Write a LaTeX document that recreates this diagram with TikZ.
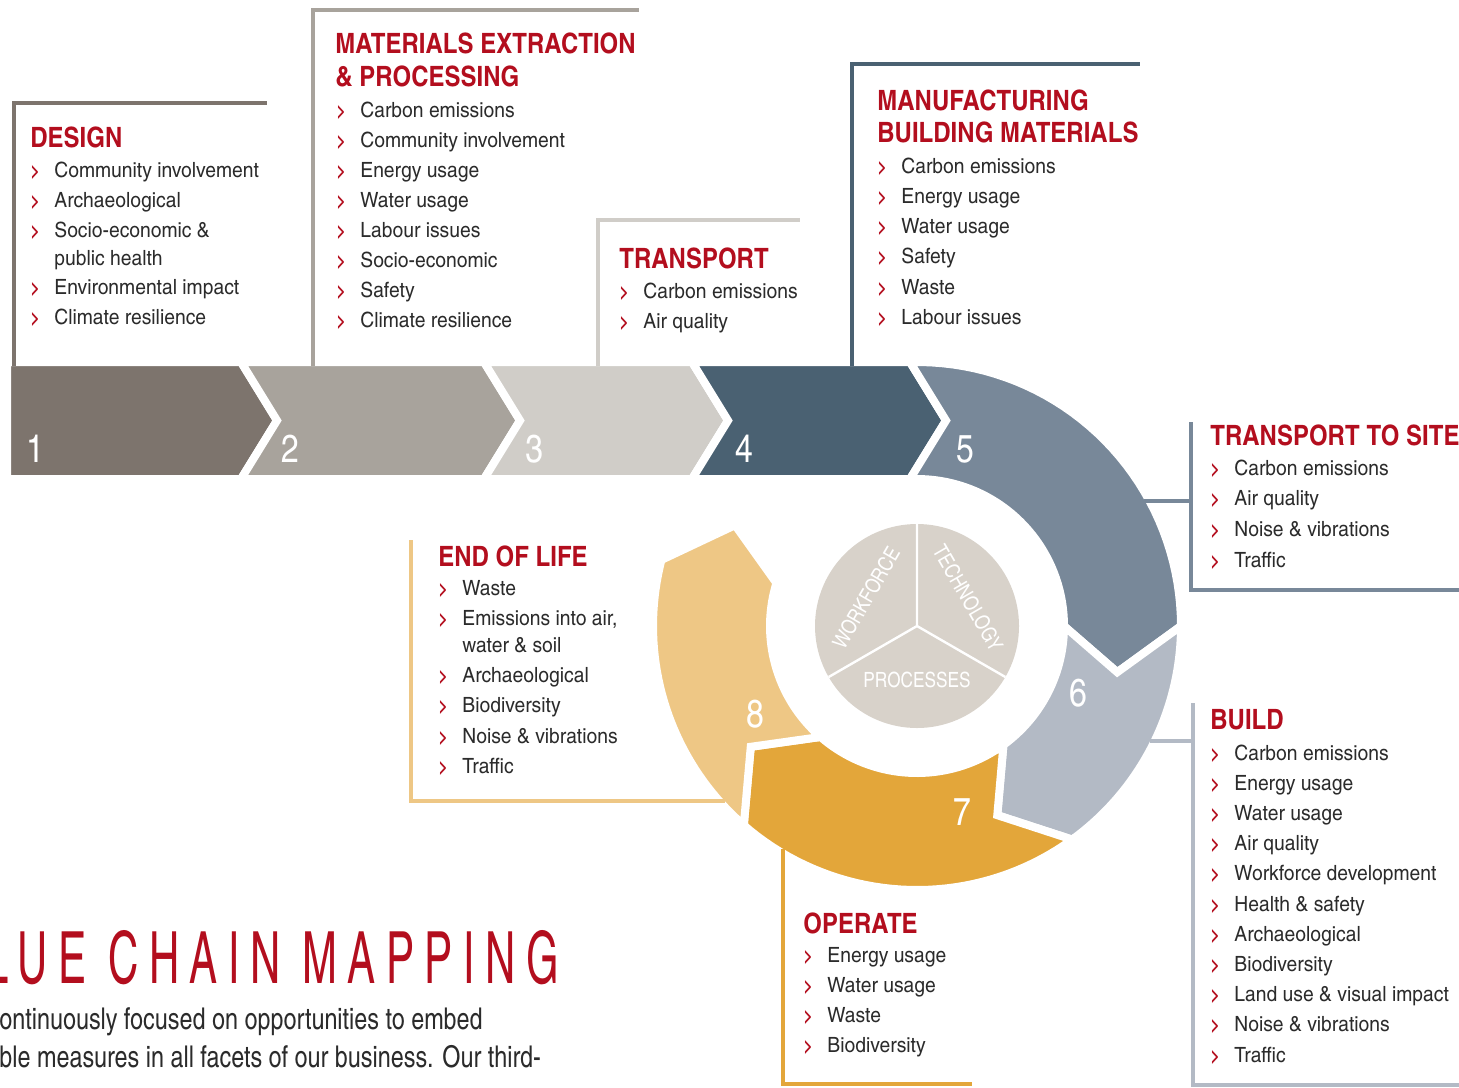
\documentclass[tikz,border=0pt]{standalone}
\usepackage{fontspec}
\setmainfont{texgyreheroscn-regular.otf}[BoldFont=texgyreheroscn-bold.otf,FakeStretch=1.12]
\newfontfamily\headfont{texgyreheroscn-bold.otf}[FakeStretch=1.045]
\newfontfamily\plainfont{texgyreheroscn-regular.otf}
\newfontfamily\bodyfont{texgyreheroscn-regular.otf}[FakeStretch=0.95]
\newfontfamily\titlefont{texgyreheroscn-regular.otf}[FakeStretch=0.71,LetterSpace=14.5]
\usetikzlibrary{positioning}

\definecolor{cone}{HTML}{7D746D}
\definecolor{ctwo}{HTML}{A8A39C}
\definecolor{cthree}{HTML}{D0CDC8}
\definecolor{cfour}{HTML}{4A6172}
\definecolor{cfive}{HTML}{788899}
\definecolor{csix}{HTML}{B3BAC5}
\definecolor{cseven}{HTML}{E3A63A}
\definecolor{ceight}{HTML}{EEC785}
\definecolor{cpie}{HTML}{D8D2CA}
\definecolor{cred}{HTML}{B30E1E}
\definecolor{ctext}{HTML}{2B2B2B}

\newcommand{\itm}[1]{\makebox[12pt][l]{\textcolor{cred}{\headfont\fontsize{10}{10}\selectfont >}}#1}

\begin{document}
\begin{tikzpicture}[x=0.5pt,y=-0.5pt,
  seg/.style={draw=white,line width=4pt,line join=miter},
  frame/.style={line width=2pt},
  head/.style={anchor=base west,inner sep=0pt,text=cred,font=\headfont\fontsize{14}{16}\selectfont},
  item/.style={anchor=base west,inner sep=0pt,text=ctext,font=\fontsize{10.5}{12}\selectfont},
  num/.style={text=white,inner sep=0pt,font=\plainfont\fontsize{19.5}{20}\selectfont},
  pielab/.style={text=white,inner sep=0pt,font=\plainfont\fontsize{10.5}{12}\selectfont}]
\useasboundingbox (0,0) rectangle (1459,1087);
\clip (0,0) rectangle (1459,1087);

% the straight chevrons
\path[fill=cone,seg] (7,362) -- (241,362) -- (277,420.5) -- (241,479) -- (7,479) -- cycle;
\path[fill=ctwo,seg] (241,362) -- (484,362) -- (520,420.5) -- (484,479) -- (241,479) -- (277,420.5) -- cycle;
\path[fill=cthree,seg] (484,362) -- (692,362) -- (728,420.5) -- (692,479) -- (484,479) -- (520,420.5) -- cycle;
\path[fill=cfour,seg] (692,362) -- (910,362) -- (946,420.5) -- (910,479) -- (692,479) -- (728,420.5) -- cycle;

% the ring
\begin{scope}[shift={(917,626)}]
\path[fill=cfive,seg] (-7,-264) -- (29,-205.5) -- (-7,-147) -- plot[domain=-92.7:0,samples=40] (\x:147) -- (13:205.5) -- (0:264) -- plot[domain=0:-91.5,samples=40] (\x:264) -- cycle;
\path[fill=csix,seg] (0:264) -- (13:205.5) -- (0:147) -- plot[domain=0:54,samples=40] (\x:147) -- (67:205.5) -- (54:264) -- plot[domain=54:0,samples=40] (\x:264) -- cycle;
\path[fill=cseven,seg] (54:264) -- (67:205.5) -- (54:147) -- plot[domain=54:131,samples=40] (\x:147) -- (144:205.5) -- (131:264) -- plot[domain=131:54,samples=40] (\x:264) -- cycle;
\path[fill=ceight,seg] (131:264) -- (144:205.5) -- (131:147) -- plot[domain=131:197,samples=40] (\x:147) -- (209:208) -- (194.5:264) -- plot[domain=194.5:131,samples=40] (\x:264) -- cycle;

% the pie in the middle
\fill[cpie] (0,0) circle (102);
\draw[white,line width=1.2pt] (0,0) -- (-90:102) (0,0) -- (30:102) (0,0) -- (150:102);
\node[pielab,rotate=60] (wf) at (-51,-28) {WORKFORCE};
\node[pielab,rotate=-60] (tech) at (51,-28) {TECHNOLOGY};
\node[pielab] (proc) at (0,54) {PROCESSES};
\end{scope}

% step numbers
\node[num] (n1) at (35,449) {1};
\node[num] (n2) at (290,449) {2};
\node[num] (n3) at (534,449) {3};
\node[num] (n4) at (744,449) {4};
\node[num] (n5) at (965,449) {5};
\node[num] (n6) at (1078,693) {6};
\node[num] (n7) at (962,812) {7};
\node[num] (n8) at (755,714) {8};

% frames
\draw[frame,cone] (13.5,366) -- (13.5,102.5) -- (267,102.5);
\draw[frame,ctwo] (313,366) -- (313,9.5) -- (639,9.5);
\draw[frame,cthree] (597.5,366) -- (597.5,220) -- (800,220);
\draw[frame,cfour] (851.5,366) -- (851.5,64) -- (1140,64);
\draw[frame,cfive] (1144,500.5) -- (1190.5,500.5);
\draw[frame,cfive] (1190.5,422) -- (1190.5,589.5) -- (1459,589.5);
\draw[frame,csix] (1150,740.5) -- (1192.5,740.5);
\draw[frame,csix] (1192.5,703) -- (1192.5,1085) -- (1459,1085);
\draw[frame,cseven] (783,849) -- (783,1084) -- (972,1084);
\draw[frame,ceight] (411,540) -- (411,801) -- (725,801);

% design
\node[head] (hdes) at (30,147) {DESIGN};
\node[item] (des1) at (30,177) {\itm{Community involvement}};
\node[item] (des2) at (30,207) {\itm{Archaeological}};
\node[item] (des3) at (30,237) {\itm{Socio-economic \&}};
\node[item] (des3b) at (54,265) {public health};
\node[item] (des4) at (30,294) {\itm{Environmental impact}};
\node[item] (des5) at (30,324) {\itm{Climate resilience}};

% materials
\node[head] (hmat) at (335,53) {MATERIALS EXTRACTION};
\node[head] (hmatb) at (335,86) {\& PROCESSING};
\foreach \t [count=\i from 0] in {Carbon emissions,Community involvement,Energy usage,Water usage,Labour issues,Socio-economic,Safety,Climate resilience}
  \node[item] (mat\i) at (336,117+30.1*\i) {\itm{\t}};

% transport
\node[head] (htra) at (619,268) {TRANSPORT};
\foreach \t [count=\i from 0] in {Carbon emissions,Air quality}
  \node[item] (tra\i) at (619,298+30*\i) {\itm{\t}};

% manufacturing
\node[head] (hman) at (877,110) {MANUFACTURING};
\node[head] (hmanb) at (877,142) {BUILDING MATERIALS};
\foreach \t [count=\i from 0] in {Carbon emissions,Energy usage,Water usage,Safety,Waste,Labour issues}
  \node[item] (man\i) at (877,173+30.3*\i) {\itm{\t}};

% transport to site
\node[head] (hsit) at (1210,445) {TRANSPORT TO SITE};
\foreach \t [count=\i from 0] in {Carbon emissions,Air quality,Noise \& vibrations,Traffic}
  \node[item] (sit\i) at (1210,475+30.7*\i) {\itm{\t}};

% build
\node[head] (hbui) at (1210,729) {BUILD};
\foreach \t [count=\i from 0] in {Carbon emissions,Energy usage,Water usage,Air quality,Workforce development,Health \& safety,Archaeological,Biodiversity,Land use \& visual impact,Noise \& vibrations,Traffic}
  \node[item] (bui\i) at (1210,760+30.2*\i) {\itm{\t}};

% operate
\node[head] (hope) at (803,933) {OPERATE};
\foreach \t [count=\i from 0] in {Energy usage,Water usage,Waste,Biodiversity}
  \node[item] (ope\i) at (803,962+30.3*\i) {\itm{\t}};

% end of life
\node[head] (heol) at (438,566) {END OF LIFE};
\node[item] (eol1) at (438,595) {\itm{Waste}};
\node[item] (eol2) at (438,625) {\itm{Emissions into air,}};
\node[item] (eol2b) at (462,652) {water \& soil};
\node[item] (eol3) at (438,682) {\itm{Archaeological}};
\node[item] (eol4) at (438,712) {\itm{Biodiversity}};
\node[item] (eol5) at (438,743) {\itm{Noise \& vibrations}};
\node[item] (eol6) at (438,773) {\itm{Traffic}};

% title and text
\node[anchor=base west,inner sep=0pt,text=cred,font={\titlefont\fontsize{36}{40}\selectfont}] (ttl) at (-15,983) {LUE CHAIN MAPPING};
\node[anchor=base west,inner sep=0pt,text=ctext,font=\bodyfont\fontsize{15}{19}\selectfont] (txt1) at (-1,1029) {ontinuously focused on opportunities to embed};
\node[anchor=base west,inner sep=0pt,text=ctext,font=\bodyfont\fontsize{15}{19}\selectfont] (txt2) at (-1,1067) {ble measures in all facets of our business. Our third-};
\end{tikzpicture}
\end{document}
